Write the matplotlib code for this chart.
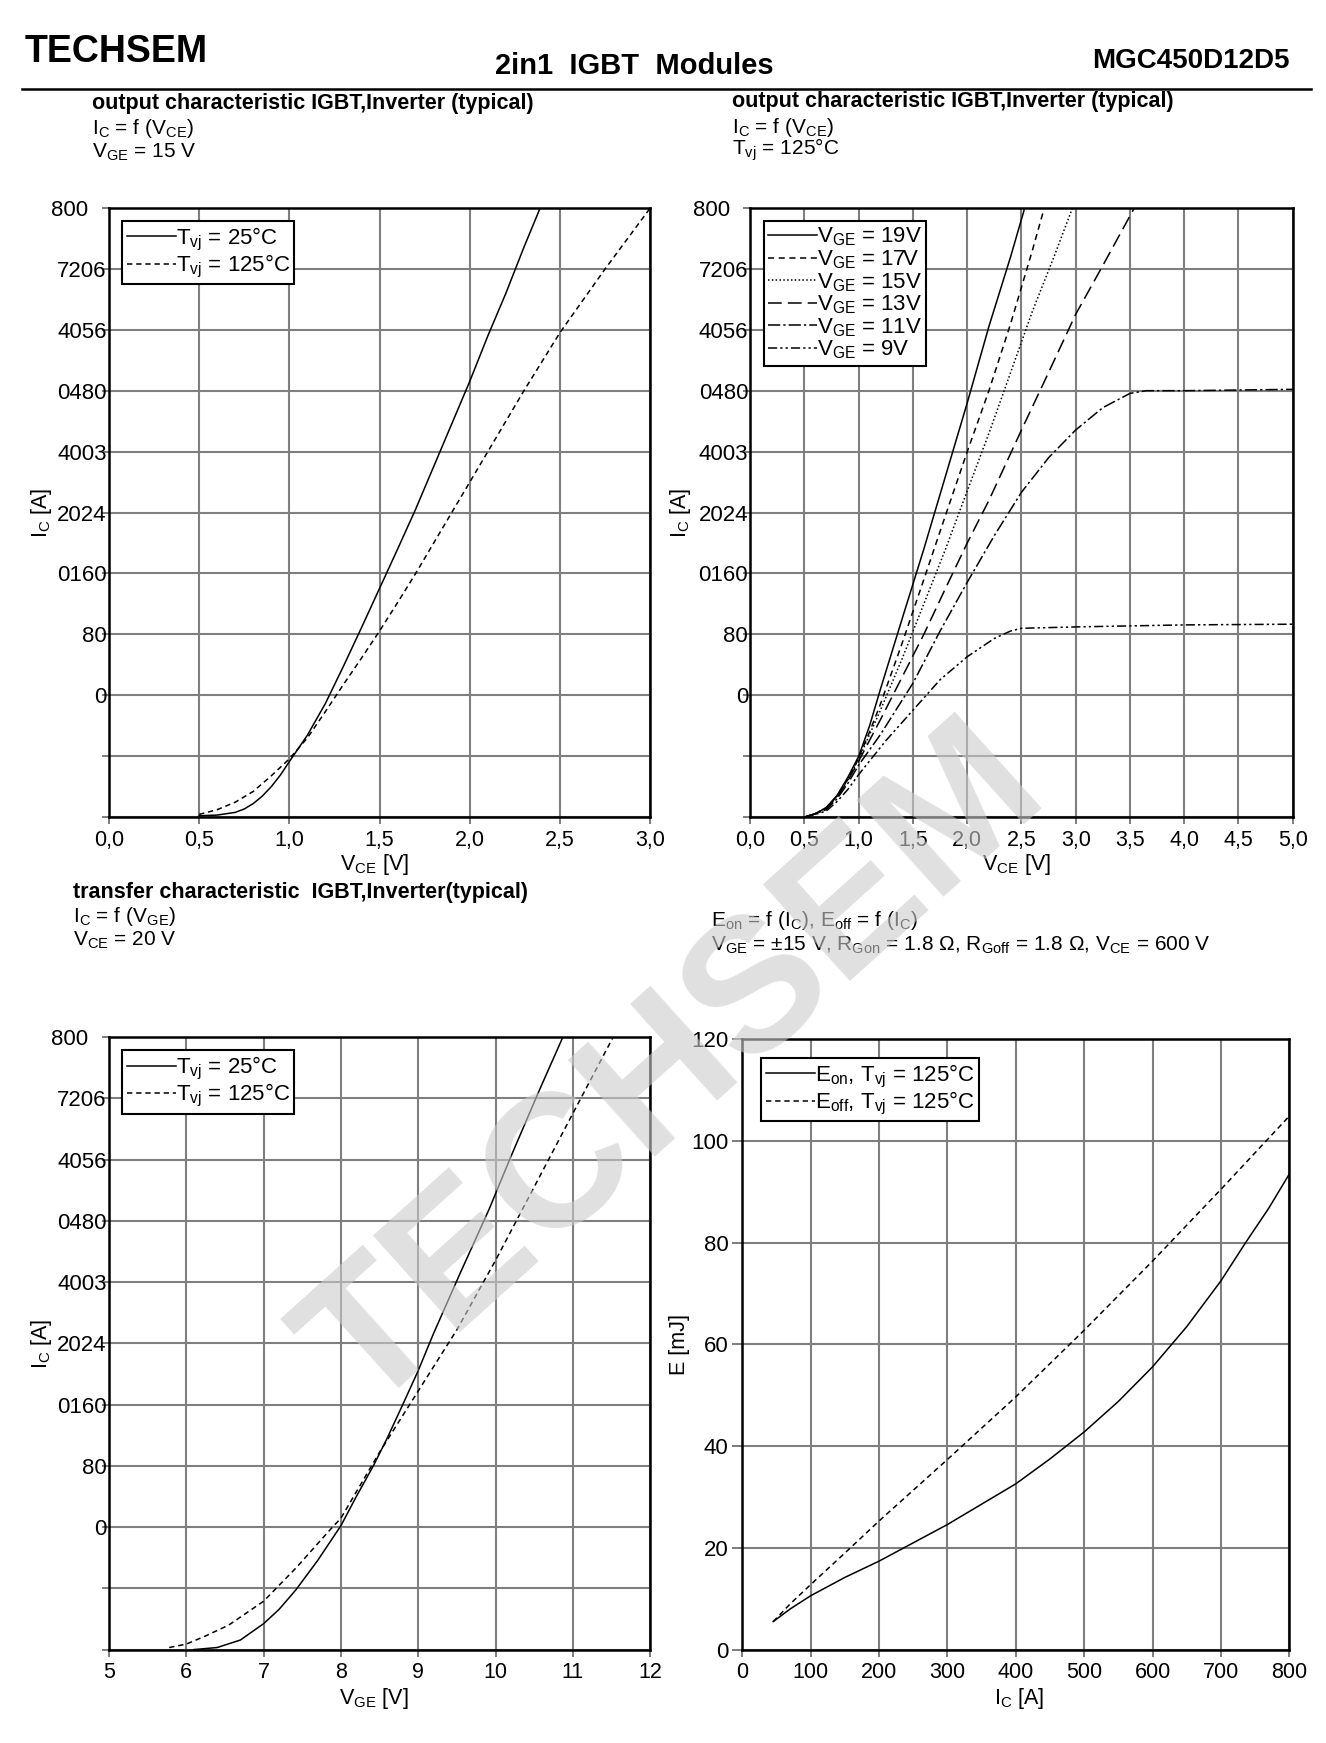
import matplotlib
matplotlib.use("Agg")
import matplotlib.pyplot as plt
from matplotlib.lines import Line2D

plt.rcParams['font.family'] = ['Liberation Sans', 'DejaVu Sans']
plt.rcParams['mathtext.fontset'] = 'custom'
plt.rcParams['mathtext.rm'] = 'Liberation Sans'

# --- datos leidos de la hoja de datos ---
# eje Y de las curvas de corriente (A), etiquetas tal como salen en la hoja
ic_ticks = [0, 90, 180, 270, 360, 450, 540, 630, 720, 810, 900]
ic_labels = ["", "", "0", "80", "0160", "2024", "4003", "0480", "4056", "7206", "800   "]

# grafico 1: Ic = f(Vce), Vge = 15 V
vce_25 = [0.5, 0.6, 0.7, 0.75, 0.8, 0.85, 0.9, 0.95, 1.0, 1.1, 1.2, 1.3, 1.4, 1.5, 1.6, 1.7, 1.8, 1.9, 2.0, 2.1, 2.2, 2.3, 2.39]
ic_25 = [2, 3, 7, 12, 20, 31, 45, 62, 82, 121, 168, 223, 280, 338, 396, 455, 518, 581, 644, 711, 774, 842, 900]
vce_125 = [0.5, 0.6, 0.7, 0.8, 0.9, 1.0, 1.1, 1.2, 1.3, 1.4, 1.5, 1.6, 1.7, 1.8, 1.9, 2.0, 2.1, 2.3, 2.5, 2.75, 3.0]
ic_125 = [4, 11, 22, 38, 61, 86, 117, 156, 196, 235, 275, 317, 360, 405, 450, 495, 540, 630, 716, 810, 900]
vce_ticks1 = [0.0, 0.5, 1.0, 1.5, 2.0, 2.5, 3.0]
vce_labels1 = ["0,0", "0,5", "1,0", "1,5", "2,0", "2,5", "3,0"]

# grafico 2: Ic = f(Vce), Tvj = 125 C, varias Vge
vce_19 = [0.5, 0.6, 0.7, 0.8, 0.9, 1.0, 1.1, 1.2, 1.4, 1.6, 1.8, 2.0, 2.2, 2.4, 2.53]
ic_19 = [0, 5, 14, 32, 59, 90, 135, 189, 293, 396, 504, 612, 725, 828, 900]
vce_17 = [0.5, 0.6, 0.7, 0.8, 0.9, 1.0, 1.1, 1.2, 1.4, 1.6, 1.8, 2.0, 2.2, 2.4, 2.6, 2.71]
ic_17 = [0, 5, 14, 31, 56, 88, 126, 167, 257, 351, 446, 540, 630, 729, 837, 900]
vce_15 = [0.5, 0.6, 0.7, 0.8, 0.9, 1.0, 1.1, 1.2, 1.4, 1.6, 1.8, 2.0, 2.2, 2.4, 2.6, 2.8, 2.97]
ic_15 = [0, 5, 14, 31, 56, 86, 122, 158, 234, 315, 396, 482, 567, 657, 747, 828, 900]
vce_13 = [0.5, 0.6, 0.7, 0.8, 0.9, 1.0, 1.2, 1.4, 1.6, 1.8, 2.0, 2.2, 2.5, 2.75, 3.0, 3.25, 3.54]
ic_13 = [0, 5, 13, 29, 54, 83, 144, 207, 270, 338, 405, 468, 572, 657, 743, 815, 900]
vce_11 = [0.5, 0.6, 0.7, 0.8, 0.9, 1.0, 1.2, 1.5, 1.75, 2.0, 2.25, 2.5, 2.75, 3.0, 3.25, 3.5, 3.65, 4.0, 4.5, 5.0]
ic_11 = [0, 5, 11, 27, 50, 77, 122, 198, 275, 347, 416, 480, 531, 572, 605, 626, 630, 630, 631, 632]
vce_9 = [0.5, 0.6, 0.7, 0.8, 0.9, 1.0, 1.25, 1.5, 1.75, 2.0, 2.25, 2.4, 2.5, 3.0, 4.0, 5.0]
ic_9 = [0, 4, 9, 23, 41, 63, 113, 158, 203, 237, 264, 275, 279, 281, 284, 285]
vce_ticks2 = [0.0, 0.5, 1.0, 1.5, 2.0, 2.5, 3.0, 3.5, 4.0, 4.5, 5.0]
vce_labels2 = ["0,0", "0,5", "1,0", "1,5", "2,0", "2,5", "3,0", "3,5", "4,0", "4,5", "5,0"]

# grafico 3: Ic = f(Vge), Vce = 20 V
vge_25 = [6.1, 6.4, 6.7, 7.0, 7.2, 7.42, 7.7, 8.0, 8.2, 8.42, 8.6, 8.8, 9.0, 9.2, 9.53, 9.92, 10.2, 10.57, 10.87]
icg_25 = [0, 3, 14, 38, 59, 88, 131, 182, 225, 270, 311, 360, 410, 465, 550, 648, 725, 823, 900]
vge_125 = [5.78, 6.0, 6.25, 6.55, 7.0, 7.42, 7.86, 8.0, 8.5, 9.0, 9.5, 10.0, 10.5, 11.0, 11.52]
icg_125 = [3, 8, 20, 36, 71, 120, 176, 193, 290, 380, 470, 572, 680, 788, 900]
vge_ticks = [5, 6, 7, 8, 9, 10, 11, 12]

# grafico 4: Eon, Eoff = f(Ic)
ic_on = [45, 70, 100, 150, 200, 300, 400, 450, 500, 550, 600, 650, 700, 736, 770, 800]
e_on = [5.5, 8.0, 10.6, 14.2, 17.4, 24.6, 32.6, 37.5, 42.8, 48.8, 55.6, 63.5, 72.5, 80.0, 86.8, 93.5]
ic_off = [45, 70, 100, 150, 200, 300, 400, 500, 600, 700, 800]
e_off = [5.5, 9.0, 12.8, 19.0, 25.3, 37.4, 49.7, 62.8, 76.4, 90.5, 104.9]
ic_ticks4 = [0, 100, 200, 300, 400, 500, 600, 700, 800]
e_ticks = [0, 20, 40, 60, 80, 100, 120]

LW = 1.1
DASH = (0, (3.5, 2.5))


def estilo(ax, xlim, xticks, xlabels, ylim, yticks, ylabels, xlab, ylab, ylab_x):
    ax.set_xlim(xlim)
    ax.set_ylim(ylim)
    ax.set_xticks(xticks, xlabels)
    ax.set_yticks(yticks, ylabels)
    ax.grid(True, color='#7f7f7f', lw=1.5)
    ax.set_axisbelow(True)
    for s in ax.spines.values():
        s.set_linewidth(1.8)
        s.set_color('black')
    ax.tick_params(axis='both', direction='out', length=5, width=1.2,
                   color='#666666')
    ax.tick_params(axis='y', pad=-3.5, labelsize=16)
    ax.tick_params(axis='x', pad=4, labelsize=15.5)
    ax.set_xlabel(xlab, fontsize=15.5)
    ax.xaxis.set_label_coords(0.49, -0.058)
    ax.set_ylabel(ylab, fontsize=15.5)
    ax.yaxis.set_label_coords(ylab_x, 0.5)


def leyenda(ax, pad=0.6):
    leg = ax.legend(loc='upper left', handlelength=2.2, handletextpad=0.0,
                    borderpad=0.2, labelspacing=0.0, fontsize=16,
                    fancybox=False, edgecolor='black', framealpha=1,
                    borderaxespad=pad)
    leg.get_frame().set_linewidth(1.5)


fig = plt.figure(figsize=(13.26, 17.43), dpi=100)

# Cabecera
fig.text(0.0184, 0.970, "TECHSEM", fontsize=27, fontweight='bold', ha='left', va='center')
fig.text(0.478, 0.962, "2in1  IGBT  Modules", fontsize=21, fontweight='bold', ha='center', va='center')
fig.text(0.9723, 0.965, "MGC450D12D5", fontsize=20, fontweight='bold', ha='right', va='center')
fig.add_artist(Line2D([0.0168, 0.989], [0.949, 0.949], transform=fig.transFigure,
                      color='black', lw=1.8))

# Subplot 1
ax1 = fig.add_axes([0.0821, 0.5312, 0.4083, 0.3495])
ax1.plot(vce_25, ic_25, color='black', lw=LW, label=r"T$_\mathregular{vj}$ = 25°C")
ax1.plot(vce_125, ic_125, color='black', lw=LW, linestyle=DASH, label=r"T$_\mathregular{vj}$ = 125°C")
estilo(ax1, (0, 3), vce_ticks1, vce_labels1, (0, 900), ic_ticks, ic_labels,
       r"V$_\mathregular{CE}$ [V]", r"I$_\mathregular{C}$ [A]", -0.102)
leyenda(ax1)
fig.text(0.0696, 0.9407, "output characteristic IGBT,Inverter (typical)", fontsize=15.5,
         fontweight='bold', va='center')
fig.text(0.0696, 0.926, r"I$_\mathregular{C}$ = f (V$_\mathregular{CE}$)", fontsize=15, va='center')
fig.text(0.0696, 0.9126, r"V$_\mathregular{GE}$ = 15 V", fontsize=15, va='center')

# Subplot 2
ax2 = fig.add_axes([0.5658, 0.5312, 0.4091, 0.3495])
ax2.plot(vce_19, ic_19, color='black', lw=LW, label=r"V$_\mathregular{GE}$ = 19V")
ax2.plot(vce_17, ic_17, color='black', lw=LW, linestyle=(0, (4, 3)), label=r"V$_\mathregular{GE}$ = 17V")
ax2.plot(vce_15, ic_15, color='black', lw=LW, linestyle=(0, (1, 1.5)), label=r"V$_\mathregular{GE}$ = 15V")
ax2.plot(vce_13, ic_13, color='black', lw=LW, linestyle=(0, (9, 4)), label=r"V$_\mathregular{GE}$ = 13V")
ax2.plot(vce_11, ic_11, color='black', lw=LW, linestyle=(0, (8, 2, 1.5, 2)), label=r"V$_\mathregular{GE}$ = 11V")
ax2.plot(vce_9, ic_9, color='black', lw=LW, linestyle=(0, (6, 2, 1.5, 2, 1.5, 2)), label=r"V$_\mathregular{GE}$ = 9V")
estilo(ax2, (0, 5), vce_ticks2, vce_labels2, (0, 900), ic_ticks, ic_labels,
       r"V$_\mathregular{CE}$ [V]", r"I$_\mathregular{C}$ [A]", -0.106)
leyenda(ax2)
fig.text(0.5524, 0.942, "output characteristic IGBT,Inverter (typical)", fontsize=15.5,
         fontweight='bold', va='center')
fig.text(0.5524, 0.927, r"I$_\mathregular{C}$ = f (V$_\mathregular{CE}$)", fontsize=15, va='center')
fig.text(0.5524, 0.914, r"T$_\mathregular{vj}$ = 125°C", fontsize=15, va='center')

# Subplot 3
ax3 = fig.add_axes([0.0821, 0.0536, 0.4083, 0.3514])
ax3.plot(vge_25, icg_25, color='black', lw=LW, label=r"T$_\mathregular{vj}$ = 25°C")
ax3.plot(vge_125, icg_125, color='black', lw=LW, linestyle=DASH, label=r"T$_\mathregular{vj}$ = 125°C")
estilo(ax3, (5, 12), vge_ticks, [str(v) for v in vge_ticks], (0, 900), ic_ticks, ic_labels,
       r"V$_\mathregular{GE}$ [V]", r"I$_\mathregular{C}$ [A]", -0.102)
ax3.xaxis.set_label_coords(0.49, -0.06)
leyenda(ax3)
fig.text(0.0553, 0.4879, "transfer characteristic  IGBT,Inverter(typical)", fontsize=15.5,
         fontweight='bold', va='center')
fig.text(0.0553, 0.474, r"I$_\mathregular{C}$ = f (V$_\mathregular{GE}$)", fontsize=15, va='center')
fig.text(0.0553, 0.4605, r"V$_\mathregular{CE}$ = 20 V", fontsize=15, va='center')

# Subplot 4
ax4 = fig.add_axes([0.5599, 0.0536, 0.4124, 0.3501])
ax4.plot(ic_on, e_on, color='black', lw=LW, label=r"E$_\mathregular{on}$, T$_\mathregular{vj}$ = 125°C")
ax4.plot(ic_off, e_off, color='black', lw=LW, linestyle=DASH, label=r"E$_\mathregular{off}$, T$_\mathregular{vj}$ = 125°C")
estilo(ax4, (0, 800), ic_ticks4, [str(v) for v in ic_ticks4], (0, 120), e_ticks,
       [str(v) for v in e_ticks], r"I$_\mathregular{C}$ [A]", "E [mJ]", -0.095)
ax4.tick_params(axis='y', length=7, pad=3)
ax4.xaxis.set_label_coords(0.506, -0.06)
leyenda(ax4, pad=0.85)
fig.text(0.5365, 0.472, r"E$_\mathregular{on}$ = f (I$_\mathregular{C}$), E$_\mathregular{off}$ = f (I$_\mathregular{C}$)",
         fontsize=15, va='center')
fig.text(0.5365, 0.458, r"V$_\mathregular{GE}$ = ±15 V, R$_\mathregular{Gon}$ = 1.8 Ω, R$_\mathregular{Goff}$ = 1.8 Ω, V$_\mathregular{CE}$ = 600 V",
         fontsize=15, va='center')

# Marca de agua
fig.text(0.51, 0.386, "TECHSEM", fontsize=136, fontweight='bold', color=(0.8, 0.8, 0.8),
         alpha=0.6, rotation=42, ha='center', va='center', rotation_mode='anchor', zorder=10)

plt.savefig("out.png", dpi=100)
